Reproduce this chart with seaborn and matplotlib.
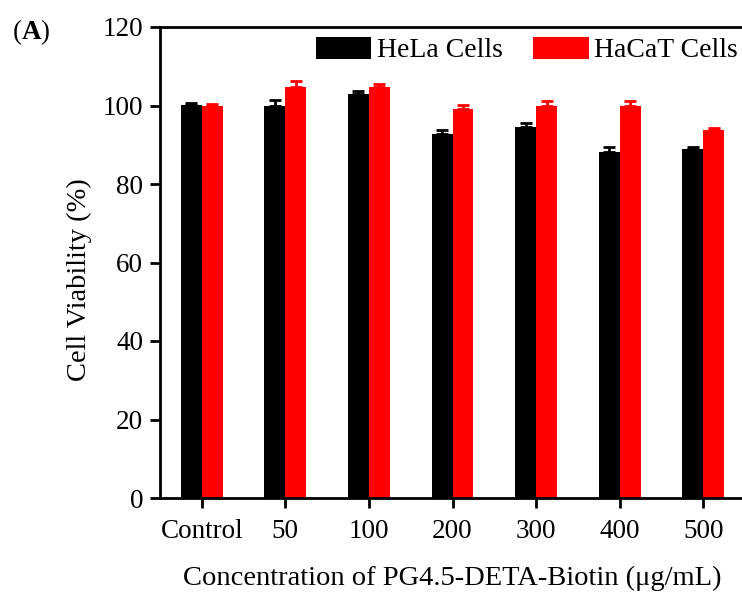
import pandas as pd
import matplotlib
matplotlib.use("Agg")
import matplotlib.pyplot as plt
import seaborn as sns

# =========================================
# Data
# =========================================
concentrations = ["Control", "50", "100", "200", "300", "400", "500"]
hela_mean = [100.1, 99.8, 102.9, 92.8, 94.5, 88.1, 89.0]
hela_err = [0.5, 1.5, 0.8, 1.0, 1.1, 1.3, 0.5]
hacat_mean = [100.0, 104.6, 104.8, 99.0, 100.0, 99.8, 93.8]
hacat_err = [0.5, 1.7, 0.8, 1.2, 1.2, 1.3, 0.5]
cell_lines = ["HeLa Cells", "HaCaT Cells"]

df = pd.DataFrame({
    "conc": concentrations * 2,
    "cells": [cell_lines[0]] * 7 + [cell_lines[1]] * 7,
    "viability": hela_mean + hacat_mean,
    "err": hela_err + hacat_err,
})

sns.set_style("ticks")
plt.rcParams["font.family"] = ["Liberation Serif", "DejaVu Serif"]
plt.rcParams["mathtext.fontset"] = "custom"
plt.rcParams["mathtext.bf"] = "Liberation Serif:bold"
for k in ["text.color", "axes.labelcolor", "axes.edgecolor", "xtick.color", "ytick.color"]:
    plt.rcParams[k] = "black"

fig = plt.figure(figsize=(7.42, 5.94), dpi=100)
ax = fig.add_axes([160 / 742, 96 / 594, 585 / 742, 471 / 594])

sns.barplot(
    data=df, x="conc", y="viability", hue="cells",
    order=concentrations, hue_order=cell_lines,
    palette=["#000000", "#ff0000"], width=0.5,
    errorbar=None, saturation=1, ax=ax, linewidth=0,
)

# upward-only error bars on each bar
for cont, line in zip(ax.containers, cell_lines):
    sub = df[df["cells"] == line].set_index("conc").loc[concentrations]
    xs = [p.get_x() + p.get_width() / 2 for p in cont.patches]
    color = "#000000" if line == cell_lines[0] else "#ff0000"
    ax.errorbar(xs, sub["viability"], yerr=[[0] * len(xs), sub["err"]],
                fmt="none", ecolor=color, elinewidth=2, capsize=4.5, capthick=2)

ax.set_xlim(-0.5, 6.5)
ax.set_ylim(0, 120)
ax.set_yticks([0, 20, 40, 60, 80, 100, 120])

for s in ["left", "bottom", "top", "right"]:
    ax.spines[s].set_linewidth(2)
ax.tick_params(axis="both", direction="out", length=7, width=2,
               labelsize=19.5, pad=5)
ax.tick_params(axis="x", pad=8)

ax.set_xlabel("Concentration of PG4.5-DETA-Biotin (μg/mL)", fontsize=20.5, labelpad=16)
ax.set_ylabel("Cell Viability (%)", fontsize=20.5)
ax.yaxis.set_label_coords(-0.116, 0.463)

ax.legend(ncol=2, frameon=False, loc="upper right",
          bbox_to_anchor=(1.014, 1.012), fontsize=20,
          handlelength=2.0, handleheight=0.85, handletextpad=0.2,
          columnspacing=1.1, borderaxespad=0.15)

fig.text(12 / 742, 1 - 32 / 594, r"($\mathbf{A}$)", fontsize=19.5,
         va="center", ha="left")

fig.savefig("out.png", dpi=100)
